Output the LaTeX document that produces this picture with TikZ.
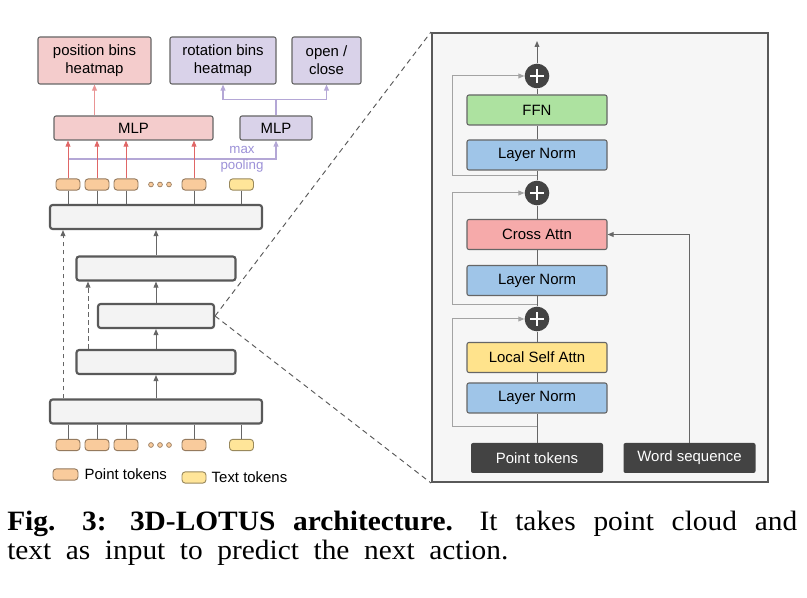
\documentclass[tikz,border=0pt]{standalone}
\usepackage{fontspec}
\setmainfont{Liberation Serif}
\setsansfont{Liberation Sans}
\newfontfamily\capfont[FakeStretch = 1.05]{Liberation Serif}
\usepackage{tikz}
\usetikzlibrary {
  positioning,
  arrows.meta,
}
\newcommand{\capspacing}{\spaceskip=.52em plus 1em minus .1em\relax}
\definecolor{edge}{HTML}{666666}
\definecolor{posred}{HTML}{F4CCCC}
\definecolor{rotpurple}{HTML}{D9D2E9}
\definecolor{redline}{HTML}{E06666}
\definecolor{purpline}{HTML}{B4A7D6}
\definecolor{pooltext}{HTML}{9D92D8}
\definecolor{ptok}{HTML}{F9CB9C}
\definecolor{ttok}{HTML}{FFE599}
\definecolor{stackfill}{HTML}{F3F3F3}
\definecolor{stackline}{HTML}{595959}
\definecolor{panelfill}{HTML}{F6F6F6}
\definecolor{ffngreen}{HTML}{ADE2A0}
\definecolor{normblue}{HTML}{9FC5E8}
\definecolor{attnred}{HTML}{F6AAAA}
\definecolor{selfyellow}{HTML}{FFE38C}
\definecolor{darkbox}{HTML}{434343}
\definecolor{skipgray}{HTML}{A3A3A3}
\tikzset{
  sz/.style 2 args = {
    minimum width = #1*0.75pt,
    minimum height = #2*0.75pt
  },
  box/.style = {
    rectangle,
    draw = edge,
    fill = #1,
    rounded corners = 1.5pt,
    inner sep = 0pt,
    line width = .8pt,
    align = center,
    font = \sffamily\fontsize{11.2}{13.5}\selectfont
  },
  layer/.style = {
    rectangle,
    draw = stackline,
    fill = stackfill,
    rounded corners = 2pt,
    line width = 1.6pt,
    inner sep = 0pt,
    minimum height = 18pt
  },
  tok/.style = {
    rectangle,
    draw = #1!60!black,
    fill = #1,
    rounded corners = 2.5pt,
    line width = .7pt,
    inner sep = 0pt,
    minimum width = 18pt,
    minimum height = 8.5pt
  },
  dot/.style = {
    circle,
    draw = ptok!60!black,
    fill = ptok,
    line width = .5pt,
    minimum size = 3.6pt,
    inner sep = 0pt
  },
  dark/.style = {
    rectangle,
    fill = darkbox,
    text = white,
    rounded corners = 1.5pt,
    inner sep = 0pt,
    minimum width = 99pt,
    minimum height = 22.5pt,
    font = \sffamily\fontsize{11.2}{13.5}\selectfont
  },
  plus/.style = {
    circle,
    fill = darkbox,
    minimum size = 18.5pt,
    inner sep = 0pt,
    path picture = {
      \draw[white, line width = 2pt]
        ([xshift = -5pt]path picture bounding box.center) --
        ([xshift = 5pt]path picture bounding box.center)
        ([yshift = -5pt]path picture bounding box.center) --
        ([yshift = 5pt]path picture bounding box.center);
    }
  },
  panel/.style = {
    rectangle,
    draw = stackline,
    fill = panelfill,
    line width = 1.5pt,
    inner sep = 0pt
  },
  lbl/.style = {
    inner sep = 0pt,
    font = \sffamily\fontsize{11.2}{13.5}\selectfont
  },
  caption/.style = {
    inner sep = 0pt,
    text width = 592.5pt,
    align = justify,
    font = \capfont\fontsize{21}{21.5}\selectfont
  },
  flow/.style = {
    draw = edge,
    line width = .75pt
  },
  con/.style = {
    -{Triangle[length = 4.5pt, width = 3.6pt]},
    draw = edge,
    line width = .75pt
  },
  skip/.style = {
    -{Triangle[length = 4.5pt, width = 3.6pt]},
    draw = skipgray,
    line width = .75pt
  },
  redcon/.style = {
    -{Triangle[length = 4.5pt, width = 3.6pt]},
    draw = #1,
    line width = .75pt
  },
  pline/.style = {
    draw = purpline,
    line width = .9pt
  },
  pcon/.style = {
    -{Triangle[length = 4.5pt, width = 3.6pt]},
    draw = purpline,
    line width = .9pt
  },
  zoomline/.style = {
    draw = stackline,
    dash pattern = on 4pt off 3pt,
    line width = .7pt
  }
}

\begin{document}
\begin{tikzpicture}[x = 0.75pt, y = -0.75pt]
  \path[fill = white, use as bounding box] (0,0) rectangle (807,598);

  % Prediction heads.
  \node[box = posred, sz = {113}{47}] (pos) at (94.5,60.5) {position bins\\heatmap};
  \node[box = rotpurple, sz = {106}{47}] (rot) at (223,60.5) {rotation bins\\heatmap};
  \node[box = rotpurple, sz = {69}{47}] (oc) at (326.5,60.5) {open /\\close};
  \node[box = posred, sz = {159}{24}] (mlpR) at (133.5,128) {MLP};
  \node[box = rotpurple, sz = {72}{24}] (mlpP) at (276,128) {MLP};

  % Tokens out.
  \node[tok = ptok] (tp1) at (68,184.5) {};
  \node[tok = ptok] (tp2) at (97,184.5) {};
  \node[tok = ptok] (tp3) at (126,184.5) {};
  \node[dot] (td1) at (151,184.5) {};
  \node[dot] (td2) at (160,184.5) {};
  \node[dot] (td3) at (169,184.5) {};
  \node[tok = ptok] (tp4) at (194,184.5) {};
  \node[tok = ttok] (tx) at (241.5,184.5) {};

  % Encoder stack.
  \node[layer, minimum width = 159pt] (lay1) at (156,217) {};
  \node[layer, minimum width = 119.25pt] (lay2) at (156,268.5) {};
  \node[layer, minimum width = 87pt] (lay3) at (156,316) {};
  \node[layer, minimum width = 119.25pt] (lay4) at (156,362) {};
  \node[layer, minimum width = 159pt] (lay5) at (156,411.5) {};

  % Tokens in.
  \node[tok = ptok] (bp1) at (68,445) {};
  \node[tok = ptok] (bp2) at (97,445) {};
  \node[tok = ptok] (bp3) at (126,445) {};
  \node[dot] (bd1) at (151,445) {};
  \node[dot] (bd2) at (160,445) {};
  \node[dot] (bd3) at (169,445) {};
  \node[tok = ptok] (bp4) at (194,445) {};
  \node[tok = ttok] (bx) at (241.5,445) {};

  % Legend.
  \node[tok = ptok, minimum width = 18.75pt] (keyP) at (65.5,474.5) {};
  \node[lbl, right = 4.5pt of keyP] (lblP) {Point tokens};
  \node[tok = ttok] (keyT) at (194,477.5) {};
  \node[lbl, right = 3.75pt of keyT] (lblT) {Text tokens};

  % Block detail.
  \node[panel, sz = {336}{449}] (panel) at (600,257.5) {};
  \node[plus] (add1) at (537,76) {};
  \node[box = ffngreen, sz = {140}{30}] (ffn) at (537,110) {FFN};
  \node[box = normblue, sz = {140}{30}] (norm1) at (537,155) {Layer Norm};
  \node[plus] (add2) at (537,193) {};
  \node[box = attnred, sz = {140}{30}] (cross) at (537,234.5) {Cross Attn};
  \node[box = normblue, sz = {140}{30}] (norm2) at (537,280.5) {Layer Norm};
  \node[plus] (add3) at (537,319) {};
  \node[box = selfyellow, sz = {140}{30}] (self) at (537,357.5) {Local Self Attn};
  \node[box = normblue, sz = {140}{30}] (norm3) at (537,398) {Layer Norm};
  \node[dark] (ptin) at (537,458) {Point tokens};
  \node[dark, right = 15pt of ptin] (wsin) {Word sequence};
  \coordinate (out) at (537,41);
  \coordinate (rail) at (452,0);

  % Heads wiring.
  \draw[redcon = redline!70!white] (mlpR.north -| pos.south) -- (pos.south);
  \draw[pline] (mlpP.north) -- ++(0,-16) coordinate (fork);
  \draw[pcon] (fork) -| (rot.south);
  \draw[pcon] (fork) -| (oc.south);
  \coordinate (pool) at (0,159);
  \draw[pcon] (tp1.north |- pool) -| (mlpP.south);
  \node[inner sep = 0pt, align = center, text = pooltext,
    font = \sffamily\fontsize{10}{12}\selectfont] (pooltxt) at (242,159) {max\\pooling};
  \foreach \t in {tp1, tp2, tp3, tp4}
    \draw[redcon = redline] (\t.north) -- (\t.north |- mlpR.south);

  % Stack wiring.
  \foreach \t in {tp1, tp2, tp3, tp4, tx}
    \draw[flow] (\t.south) -- (\t.south |- lay1.north);
  \foreach \t in {bp1, bp2, bp3, bp4, bx}
    \draw[flow] (\t.north) -- (\t.north |- lay5.south);
  \draw[con] (lay5.north) -- (lay4.south);
  \draw[con] (lay4.north) -- (lay3.south);
  \draw[con] (lay3.north) -- (lay2.south);
  \draw[con] (lay2.north) -- (lay1.south);
  \coordinate (dA) at (63,0);
  \coordinate (dB) at (88,0);
  \draw[con, dash pattern = on 3.5pt off 2.5pt] (lay5.north -| dA) -- (lay1.south -| dA);
  \draw[con, dash pattern = on 3.5pt off 2.5pt] (lay4.north -| dB) -- (lay2.south -| dB);
  \draw[zoomline] (lay3.east) -- (panel.north west);
  \draw[zoomline] (lay3.east) -- (panel.south west);

  % Block wiring.
  \draw[con] (add1.north) -- (out);
  \draw[flow] (ffn.north) -- (add1.south);
  \draw[flow] (norm1.north) -- (ffn.south);
  \draw[flow] (add2.north) -- (norm1.south);
  \draw[flow] (cross.north) -- (add2.south);
  \draw[flow] (norm2.north) -- (cross.south);
  \draw[flow] (add3.north) -- (norm2.south);
  \draw[flow] (self.north) -- (add3.south);
  \draw[flow] (norm3.north) -- (self.south);
  \draw[flow] (ptin.north) -- (norm3.south);
  \draw[con] (wsin.north) |- (cross.east);
  \coordinate (s1) at ([yshift = -3.75pt]norm1.south);
  \coordinate (s2) at ([yshift = -6pt]norm2.south);
  \coordinate (s3) at ([yshift = -9.75pt]norm3.south);
  \draw[skip] (s1) -- (s1 -| rail) |- (add1.west);
  \draw[skip] (s2) -- (s2 -| rail) |- (add2.west);
  \draw[skip] (s3) -- (s3 -| rail) |- (add3.west);

  % Caption.
  \node[caption, anchor = north west] (cap) at (7,511)
    {\capspacing\textbf{Fig. 3: 3D-LOTUS architecture.} It takes point cloud and\linebreak
     text as input to predict the next action.};
\end{tikzpicture}
\end{document}
